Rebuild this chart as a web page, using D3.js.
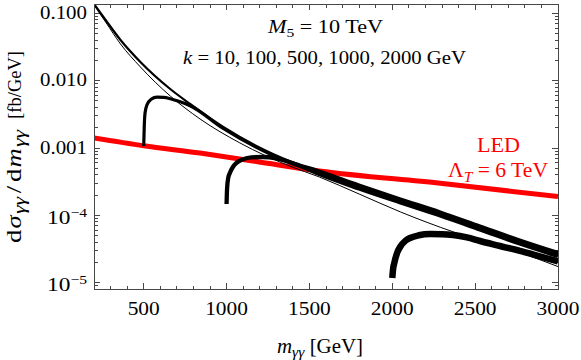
<!DOCTYPE html>
<html lang="en">
<head>
<meta charset="UTF-8">
<title>Diphoton spectrum, M5 = 10 TeV</title>
<style>
    body { margin: 0; background: #fff; }
    svg { display: block; }
</style>
</head>
<body>
<div id="chart"></div>
<script src="https://cdnjs.cloudflare.com/ajax/libs/d3/7.8.5/d3.min.js"></script>
<script>

// k values of the black curves (GeV)
var kValues = [10, 100, 500, 1000, 2000];

// [m_gg in GeV, dsigma/dm in fb/GeV]
var curveK10 = [[200, 0.133], [270, 0.0745], [360, 0.0351], [480, 0.0160], [660, 0.00593], [840, 0.00270],
    [1080, 0.00119], [1380, 5.40e-4], [1560, 3.71e-4], [1800, 2.07e-4], [2050, 1.12e-4], [2370, 5.65e-5],
    [2770, 2.80e-5], [3000, 1.73e-5]];
var curveK100 = [[200, 0.138], [270, 0.0798], [360, 0.0403], [480, 0.0190], [660, 0.00753], [780, 0.00451],
    [980, 0.00205], [1180, 0.00107], [1380, 6.41e-4], [1560, 4.63e-4], [1800, 2.87e-4], [2050, 1.78e-4],
    [2290, 1.14e-4], [2530, 7.05e-5], [2770, 4.37e-5], [3000, 2.85e-5]];
var curveK500 = [[500, 1.07e-3], [503, 1.98e-3], [508, 3.31e-3], [520, 4.40e-3], [545, 5.30e-3], [580, 5.70e-3],
    [620, 5.65e-3], [660, 5.40e-3], [720, 4.85e-3], [780, 4.25e-3], [980, 1.95e-3], [1180, 1.02e-3],
    [1380, 6.10e-4], [1560, 4.40e-4], [1800, 2.73e-4], [2050, 1.69e-4], [2290, 1.08e-4], [2530, 6.70e-5],
    [2770, 4.15e-5], [3000, 2.71e-5]];
var curveK1000 = [[1000, 1.47e-4], [1003, 2.50e-4], [1010, 3.60e-4], [1020, 4.25e-4], [1040, 5.30e-4],
    [1060, 6.00e-4], [1100, 6.80e-4], [1150, 7.25e-4], [1220, 7.35e-4], [1300, 7.00e-4], [1380, 6.15e-4],
    [1460, 5.20e-4], [1560, 4.10e-4], [1800, 2.50e-4], [2050, 1.55e-4], [2290, 9.90e-5], [2530, 6.15e-5],
    [2770, 3.80e-5], [3000, 2.48e-5]];
var curveK2000 = [[2000, 1.17e-5], [2005, 1.60e-5], [2012, 1.95e-5], [2030, 2.80e-5], [2047, 3.38e-5],
    [2080, 4.20e-5], [2107, 4.60e-5], [2160, 5.05e-5], [2228, 5.27e-5], [2300, 5.25e-5], [2367, 5.10e-5],
    [2450, 4.70e-5], [2530, 4.15e-5], [2650, 3.50e-5], [2770, 2.95e-5], [2890, 2.45e-5], [3000, 2.06e-5]];
// LED, Lambda_T = 6 TeV
var curveLED = [[200, 1.41e-3], [500, 1.08e-3], [840, 8.40e-4], [1180, 6.30e-4], [1560, 4.55e-4],
    [2290, 2.99e-4], [3000, 1.90e-4]];

// axis ticks and labels
var xTicks = [500, 1000, 1500, 2000, 2500, 3000];
var yTicks = [1e-5, 1e-4, 1e-3, 1e-2, 1e-1];
var yTickBase = ["10", "10", "0.001", "0.010", "0.100"];
var yTickExp = ["\u22125", "\u22124", "", "", ""];

var margin = { top: 4, right: 23, bottom: 71, left: 94 },
    width = 581 - margin.left - margin.right,
    height = 360 - margin.top - margin.bottom;

var svg = d3.select("#chart")
    .append("svg")
    .attr("width", 581)
    .attr("height", 360)
    .attr("font-family", "'Liberation Serif', 'Times New Roman', serif");

var g = svg.append("g")
    .attr("transform", "translate(" + margin.left + "," + margin.top + ")");

var x = d3.scaleLinear().domain([200, 3000]).range([0, width]);
var y = d3.scaleLog().domain([8.03e-6, 0.138]).range([height, 0]);

// stretch a text to a given width, starting from its anchor point
function fitWidth(sel, w, anchor) {
    sel.each(function () {
        var t = d3.select(this);
        var x0 = +t.attr("x");
        var start = anchor == "middle" ? x0 - w / 2 : anchor == "end" ? x0 - w : x0;
        t.attr("x", start)
            .attr("text-anchor", "start")
            .attr("textLength", w)
            .attr("lengthAdjust", "spacingAndGlyphs");
    });
}

g.append("clipPath").attr("id", "clip")
    .append("rect").attr("width", width).attr("height", height);

var frameColor = "#474747";

// ticks, inward on all four sides
var ticks = g.append("g").attr("stroke", frameColor).attr("stroke-width", 1)
    .attr("shape-rendering", "crispEdges");
for (var m = 200; m <= 3000; m += 100) {
    var len = m % 500 == 0 ? 6 : 3.5;
    ticks.append("line").attr("x1", x(m)).attr("x2", x(m)).attr("y1", height).attr("y2", height - len);
    ticks.append("line").attr("x1", x(m)).attr("x2", x(m)).attr("y1", 0).attr("y2", len);
}
for (var d = -6; d <= 0; d++) {
    for (var j = 1; j <= 9; j++) {
        var v = j * Math.pow(10, d);
        if (v < y.domain()[0] || v > y.domain()[1]) continue;
        var len = j == 1 ? 6 : 3.5;
        ticks.append("line").attr("y1", y(v)).attr("y2", y(v)).attr("x1", 0).attr("x2", len);
        ticks.append("line").attr("y1", y(v)).attr("y2", y(v)).attr("x1", width).attr("x2", width - len);
    }
}

// curves
var line = d3.line()
    .x(function (d) { return x(d[0]); })
    .y(function (d) { return y(d[1]); })
    .curve(d3.curveMonotoneX);

var curves = g.append("g").attr("clip-path", "url(#clip)").attr("fill", "none")
    .attr("stroke-linejoin", "round");

curves.append("path").datum(curveLED)
    .attr("stroke", "#ff0000").attr("stroke-width", 5).attr("d", line);

var blackCurves = [curveK10, curveK100, curveK500, curveK1000, curveK2000];
var blackWidths = [1, 2.2, 3.2, 4.3, 6.5];
blackCurves.forEach(function (c, i) {
    curves.append("path").datum(c)
        .attr("stroke", "#000").attr("stroke-width", blackWidths[i]).attr("d", line);
});

// frame
g.append("rect")
    .attr("width", width).attr("height", height)
    .attr("fill", "none").attr("stroke", frameColor).attr("stroke-width", 1)
    .attr("shape-rendering", "crispEdges");

// x tick labels
xTicks.forEach(function (t) {
    g.append("text")
        .attr("x", x(t)).attr("y", height + 26)
        .attr("font-size", 19.5)
        .text(t)
        .call(fitWidth, 10.7 * String(t).length, "middle");
});

// y tick labels
yTicks.forEach(function (t, i) {
    var txt = g.append("text").attr("font-size", 19.5).attr("x", -7);
    if (yTickExp[i]) {
        txt.attr("y", y(t) + 8.5);
        txt.append("tspan").text(yTickBase[i]);
        txt.append("tspan").attr("font-size", 13).attr("dy", -7).text(yTickExp[i]);
        txt.call(fitWidth, 40, "end");
    } else {
        txt.attr("y", y(t) + 5.5).text(yTickBase[i]);
        txt.call(fitWidth, 47, "end");
    }
});

// x axis title
var xt = svg.append("text").attr("x", 320).attr("y", 353).attr("font-size", 20);
xt.append("tspan").attr("font-style", "italic").text("m");
xt.append("tspan").attr("font-style", "italic").attr("font-size", 15).attr("dy", 4).text("\u03b3\u03b3");
xt.append("tspan").attr("dy", -4).text(" [GeV]");
xt.call(fitWidth, 86, "middle");

// y axis title, spaced out like the typeset original
var yt = svg.append("g").attr("transform", "translate(21,0) rotate(-90)");
var ym = yt.append("text").attr("x", -243).attr("y", 0).attr("font-size", 21);
ym.append("tspan").text("d");
ym.append("tspan").attr("font-style", "italic").attr("dx", 1).text("\u03c3");
ym.append("tspan").attr("font-style", "italic").attr("font-size", 17).attr("dx", 1).attr("dy", 4).text("\u03b3\u03b3");
ym.append("tspan").attr("dx", 3).attr("dy", -4).text("/");
ym.append("tspan").attr("dx", 3).text("d");
ym.append("tspan").attr("font-style", "italic").attr("dx", 1).text("m");
ym.append("tspan").attr("font-style", "italic").attr("font-size", 17).attr("dx", 1).attr("dy", 4).text("\u03b3\u03b3");
ym.call(fitWidth, 113, "start");
yt.append("text").attr("x", -51).attr("y", 0).attr("font-size", 18.5)
    .attr("text-anchor", "end")
    .text("[fb/GeV]");

// annotations
var a1 = svg.append("text").attr("x", 325.5).attr("y", 33).attr("font-size", 18.5);
a1.append("tspan").attr("font-style", "italic").text("M");
a1.append("tspan").attr("font-size", 13).attr("dy", 4).text("5");
a1.append("tspan").attr("dy", -4).text(" = 10 TeV");
a1.call(fitWidth, 115, "middle");

var a2 = svg.append("text").attr("x", 324.5).attr("y", 64).attr("font-size", 18.5);
a2.append("tspan").attr("font-style", "italic").text("k");
a2.append("tspan").text(" = " + kValues.join(", ") + " GeV");
a2.call(fitWidth, 283, "middle");

svg.append("text").attr("x", 498.5).attr("y", 152).attr("font-size", 21)
    .attr("fill", "#ff0000").text("LED")
    .call(fitWidth, 43, "middle");

var a3 = svg.append("text").attr("x", 498).attr("y", 177).attr("font-size", 21).attr("fill", "#ff0000");
a3.append("tspan").text("\u039b");
a3.append("tspan").attr("font-style", "italic").attr("font-size", 15).attr("dy", 5).text("T");
a3.append("tspan").attr("dy", -5).text(" = 6 TeV");
a3.call(fitWidth, 100, "middle");

</script>
</body>
</html>
